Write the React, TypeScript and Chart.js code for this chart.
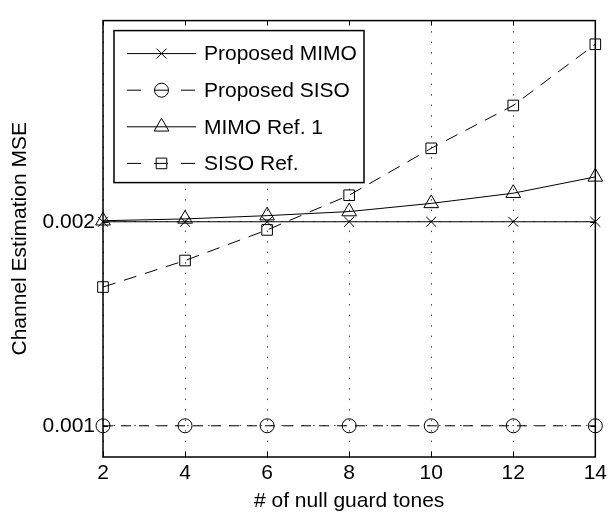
import React, { useEffect, useRef } from 'react';
import { Chart, registerables } from 'chart.js';

Chart.register(...registerables);

// ---- data ----
const guardTones = [2, 4, 6, 8, 10, 12, 14];
const proposedMimo = [0.002, 0.002, 0.002, 0.002, 0.002, 0.002, 0.002];
const proposedSiso = [0.001, 0.001, 0.001, 0.001, 0.001, 0.001, 0.001];
const mimoRef1 = [0.002005, 0.002014, 0.00203, 0.00205, 0.00209, 0.00214, 0.00222];
const sisoRef = [0.00168, 0.00181, 0.00196, 0.00213, 0.00236, 0.00257, 0.00287];
const seriesNames = ['Proposed MIMO', 'Proposed SISO', 'MIMO Ref. 1', 'SISO Ref.'];
const xTicks = [2, 4, 6, 8, 10, 12, 14];
const yTicks = [0.001, 0.002];
const yTickLabels = ['0.001', '0.002'];
const xTitle = '# of null guard tones';
const yTitle = 'Channel Estimation MSE';

const FONT = '"Liberation Sans", Arial, Helvetica, sans-serif';

type Style = { dash: number[]; point: string; r: number };
const styles: Style[] = [
  { dash: [], point: 'crossRot', r: 7 },
  { dash: [10, 8], point: 'circle', r: 7 },
  { dash: [], point: 'triangle', r: 8.5 },
  { dash: [13, 9], point: 'rect', r: 7.5 },
];

function drawMarker(ctx: CanvasRenderingContext2D, kind: string, x: number, y: number, r: number) {
  ctx.beginPath();
  if (kind === 'crossRot') {
    const o = r * Math.SQRT1_2;
    ctx.moveTo(x - o, y - o); ctx.lineTo(x + o, y + o);
    ctx.moveTo(x - o, y + o); ctx.lineTo(x + o, y - o);
  } else if (kind === 'circle') {
    ctx.arc(x, y, r, 0, Math.PI * 2);
  } else if (kind === 'triangle') {
    for (let i = 0; i < 3; i++) {
      const a = (i * 2 * Math.PI) / 3;
      const px = x + Math.sin(a) * r;
      const py = y - Math.cos(a) * r;
      if (i === 0) ctx.moveTo(px, py); else ctx.lineTo(px, py);
    }
    ctx.closePath();
  } else if (kind === 'rect') {
    const s = r * Math.SQRT1_2;
    ctx.rect(x - s, y - s, 2 * s, 2 * s);
  }
  ctx.stroke();
}

const framePlugin = {
  id: 'frame',
  beforeDatasetsDraw(chart: any) {
    const { ctx, chartArea: a } = chart;
    ctx.save();
    ctx.strokeStyle = '#000';
    ctx.lineWidth = 1;
    const xs = chart.scales.x;
    const ys = chart.scales.y;
    ctx.beginPath();
    xTicks.forEach((t) => {
      const px = Math.round(xs.getPixelForValue(t)) + 0.5;
      ctx.moveTo(px, a.bottom); ctx.lineTo(px, a.bottom - 5);
      ctx.moveTo(px, a.top); ctx.lineTo(px, a.top + 5);
    });
    yTicks.forEach((t) => {
      const py = Math.round(ys.getPixelForValue(t)) + 0.5;
      ctx.moveTo(a.left, py); ctx.lineTo(a.left + 5, py);
      ctx.moveTo(a.right, py); ctx.lineTo(a.right - 5, py);
    });
    ctx.stroke();
    ctx.restore();
  },
  afterDatasetsDraw(chart: any) {
    const { ctx, chartArea: a } = chart;
    ctx.save();
    ctx.strokeStyle = '#000';
    ctx.lineWidth = 1.5;
    ctx.strokeRect(a.left, a.top, a.right - a.left, a.bottom - a.top);

    // legend
    const lx = a.left + 11;
    const ly = a.top + 10;
    const lw = 250;
    const lh = 152;
    ctx.fillStyle = '#fff';
    ctx.fillRect(lx, ly, lw, lh);
    ctx.lineWidth = 1.5;
    ctx.strokeRect(lx, ly, lw, lh);
    ctx.font = `21px ${FONT}`;
    ctx.textBaseline = 'middle';
    ctx.textAlign = 'left';
    seriesNames.forEach((name, i) => {
      const st = styles[i];
      const cy = ly + 23 + i * 36.6;
      const x1 = lx + 13;
      const x2 = lx + 82;
      ctx.lineWidth = 1;
      ctx.strokeStyle = '#000';
      ctx.setLineDash(st.dash.length ? [14, 13] : []);
      ctx.beginPath();
      ctx.moveTo(x1, cy); ctx.lineTo(x2, cy);
      ctx.stroke();
      ctx.setLineDash([]);
      drawMarker(ctx, st.point, (x1 + x2) / 2, cy, st.r);
      ctx.fillStyle = '#000';
      ctx.fillText(name, lx + 90, cy + 1);
    });
    ctx.restore();
  },
};

const seriesData = [proposedMimo, proposedSiso, mimoRef1, sisoRef];

export default function App() {
  const ref = useRef<HTMLCanvasElement | null>(null);
  useEffect(() => {
    if (!ref.current) return;
    const chart = new Chart(ref.current, {
      type: 'line',
      data: {
        datasets: seriesData.map((vals, i) => ({
          label: seriesNames[i],
          data: guardTones.map((g, j) => ({ x: g, y: vals[j] })),
          borderColor: '#000',
          borderWidth: 1,
          borderDash: styles[i].dash,
          pointStyle: styles[i].point as any,
          pointRadius: styles[i].r,
          pointBorderColor: '#000',
          pointBackgroundColor: 'rgba(0,0,0,0)',
          pointBorderWidth: 1,
          tension: 0,
          clip: false as any,
          fill: false,
        })),
      },
      options: {
        animation: false,
        responsive: true,
        maintainAspectRatio: false,
        events: [],
        layout: { padding: { left: 0, right: 12, top: 10, bottom: 0 } },
        plugins: { legend: { display: false }, tooltip: { enabled: false } },
        scales: {
          x: {
            type: 'linear',
            min: 2,
            max: 14,
            afterBuildTicks: (s: any) => { s.ticks = xTicks.map((v) => ({ value: v })); },
            afterFit: (s: any) => { s.height = 58; },
            ticks: {
              color: '#000',
              padding: 4,
              font: { size: 21, family: FONT },
              callback: (v: any) => String(v),
              maxRotation: 0,
            },
            grid: { color: '#444', lineWidth: 1, drawTicks: false },
            border: { display: false, dash: [1.5, 9] },
            title: {
              display: true,
              text: xTitle,
              color: '#000',
              font: { size: 21, family: FONT },
              padding: { top: 0, bottom: 1 },
            },
          },
          y: {
            type: 'linear',
            min: 0.000847,
            max: 0.002986,
            afterBuildTicks: (s: any) => { s.ticks = yTicks.map((v) => ({ value: v })); },
            afterFit: (s: any) => { s.width = 103; },
            ticks: {
              color: '#000',
              padding: 8,
              font: { size: 21, family: FONT },
              callback: (v: any) => {
                const k = yTicks.indexOf(v);
                return k >= 0 ? yTickLabels[k] : '';
              },
            },
            grid: { color: '#444', lineWidth: 1, drawTicks: false },
            border: { display: false, dash: [1.5, 9] },
            title: {
              display: true,
              text: yTitle,
              color: '#000',
              font: { size: 21, family: FONT },
              padding: { top: 8, bottom: 0 },
            },
          },
        },
      },
      plugins: [framePlugin],
    });
    return () => chart.destroy();
  }, []);
  return (
    <div style={{ position: 'absolute', left: 0, top: 0, width: 611, height: 515, background: '#fff' }}>
      <canvas ref={ref} />
    </div>
  );
}
